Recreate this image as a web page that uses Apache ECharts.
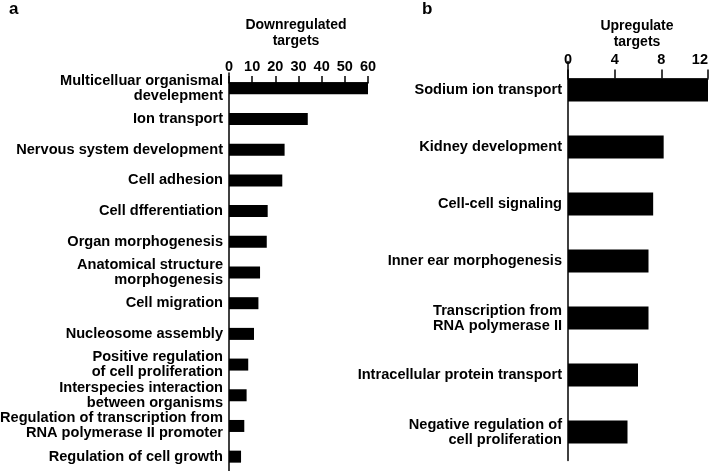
<!DOCTYPE html>
<html>
<head>
<meta charset="utf-8">
<script src="https://cdn.jsdelivr.net/npm/echarts@6/dist/echarts.min.js"></script>
<style>
html,body{margin:0;padding:0;background:#fff;}
#chart{width:709px;height:471px;}
</style>
</head>
<body>
<div id="chart"></div>
<script>
// Panel a: downregulated targets
const downCategories = [
  "Multicelluar organismal\ndevelepment",
  "Ion transport",
  "Nervous system development",
  "Cell adhesion",
  "Cell dfferentiation",
  "Organ morphogenesis",
  "Anatomical structure\nmorphogenesis",
  "Cell migration",
  "Nucleosome assembly",
  "Positive regulation\nof cell proliferation",
  "Interspecies interaction\nbetween organisms",
  "Regulation of transcription from\nRNA polymerase II promoter",
  "Regulation of cell growth"
];
const downValues = [60, 34, 24, 23, 16.7, 16.3, 13.4, 12.7, 10.8, 8.3, 7.6, 6.6, 5.2];
const downTicks = [0, 10, 20, 30, 40, 50, 60];

// Panel b: upregulated targets
const upCategories = [
  "Sodium ion transport",
  "Kidney development",
  "Cell-cell signaling",
  "Inner ear morphogenesis",
  "Transcription from\nRNA polymerase II",
  "Intracellular protein transport",
  "Negative regulation of\ncell proliferation"
];
const upValues = [12, 8.2, 7.3, 6.9, 6.9, 6.0, 5.1];
const upTicks = [0, 4, 8, 12];

const FONT = '"Liberation Sans", Arial, Helvetica, sans-serif';
const chart = echarts.init(document.getElementById('chart'));

function xAx(gridIndex, max, interval, offset, tickLen, margin, alignMax) {
  return {
    type: 'value', gridIndex, position: 'top', min: 0, max, interval, offset,
    axisLine: {show: true, lineStyle: {color: '#000', width: 1.5}},
    axisTick: {show: true, length: tickLen, lineStyle: {color: '#000', width: 1.5}},
    axisLabel: {margin, color: '#000', fontFamily: FONT, fontWeight: 'bold', fontSize: 14.5, hideOverlap: false, alignMaxLabel: alignMax},
    splitLine: {show: false}
  };
}
function yAx(gridIndex, data) {
  return {
    type: 'category', gridIndex, data, inverse: true,
    axisLine: {show: true, lineStyle: {color: '#000', width: 1.5}},
    axisTick: {show: false},
    axisLabel: {margin: 6, color: '#000', fontFamily: FONT, fontWeight: 'bold', fontSize: 14.6, lineHeight: 15, align: 'right', interval: 0}
  };
}

chart.setOption({
  animation: false,
  backgroundColor: '#fff',
  grid: [
    {left: 229, width: 139, top: 73, height: 399, outerBoundsMode: 'none', containLabel: false},
    {left: 568, width: 140, top: 61.5, height: 399, outerBoundsMode: 'none', containLabel: false}
  ],
  xAxis: [
    xAx(0, downTicks[downTicks.length - 1], downTicks[1] - downTicks[0], -10, 7, 9, null),
    xAx(1, upTicks[upTicks.length - 1], upTicks[1] - upTicks[0], -17, 9, 11, 'right')
  ],
  yAxis: [yAx(0, downCategories), yAx(1, upCategories)],
  series: [
    {type: 'bar', xAxisIndex: 0, yAxisIndex: 0, data: downValues, barWidth: 12, itemStyle: {color: '#000'}},
    {type: 'bar', xAxisIndex: 1, yAxisIndex: 1, data: upValues, barWidth: 23, itemStyle: {color: '#000'}}
  ],
  graphic: [
    {type: 'text', x: 9, y: 1, style: {text: 'a', font: 'bold 17px ' + FONT, fill: '#000'}},
    {type: 'text', x: 422, y: 1, style: {text: 'b', font: 'bold 17px ' + FONT, fill: '#000'}},
    {type: 'text', x: 296, y: 17, style: {text: 'Downregulated\ntargets', font: 'bold 14px ' + FONT, lineHeight: 16, fill: '#000', align: 'center', verticalAlign: 'top'}},
    {type: 'text', x: 637, y: 18, style: {text: 'Upregulate\ntargets', font: 'bold 14px ' + FONT, lineHeight: 16, fill: '#000', align: 'center', verticalAlign: 'top'}}
  ]
});
</script>
</body>
</html>
